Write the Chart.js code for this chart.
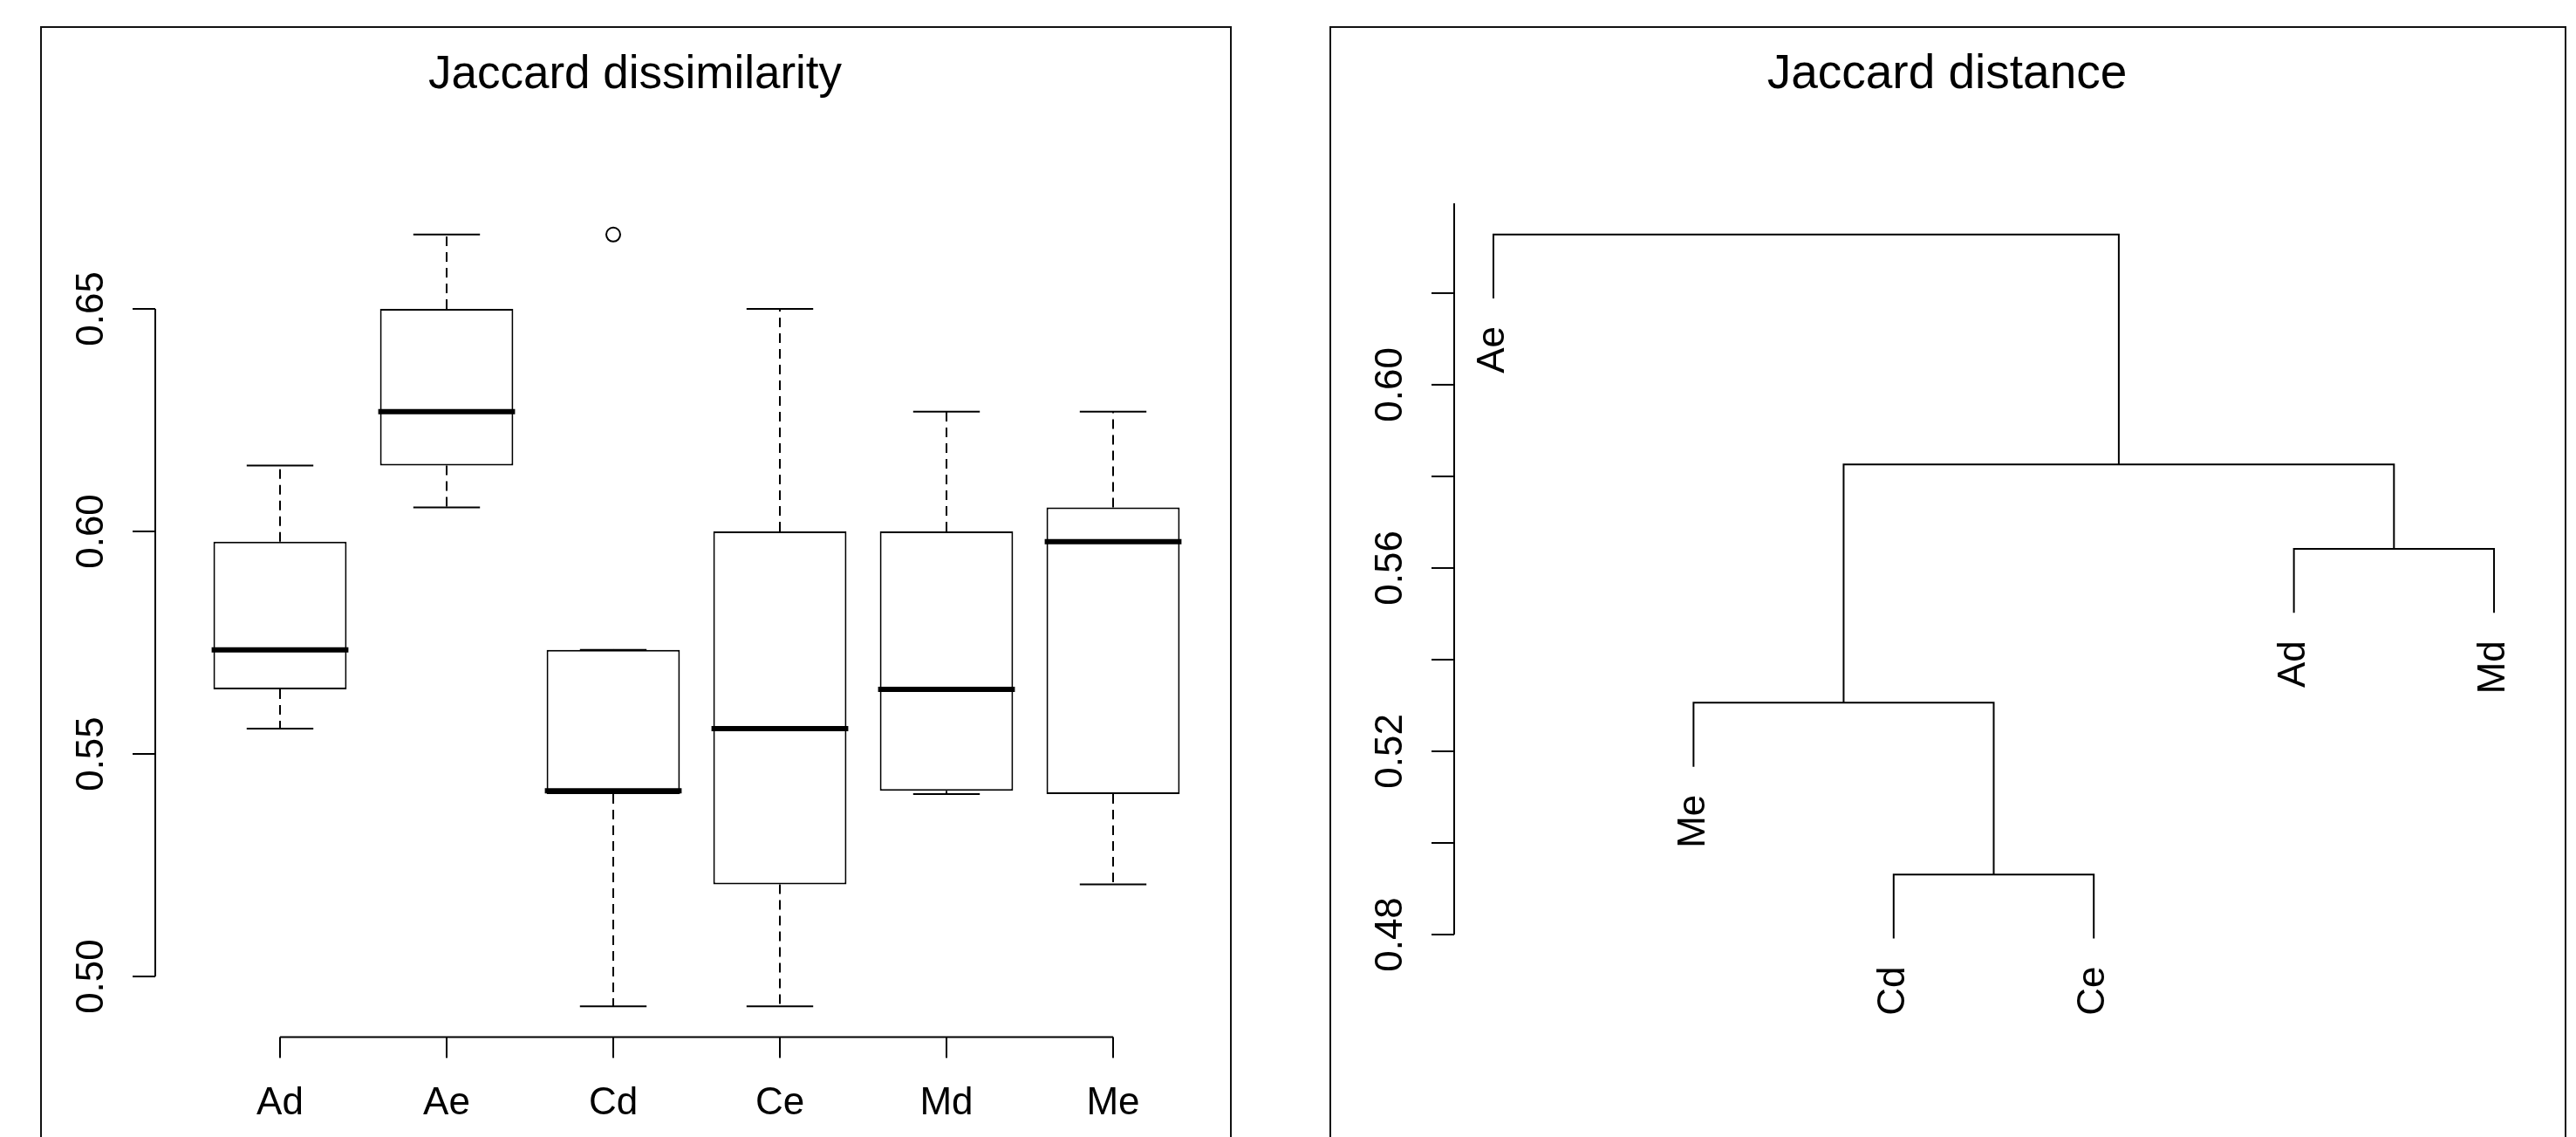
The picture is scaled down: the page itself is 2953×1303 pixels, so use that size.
<!DOCTYPE html>
<html>
<head>
<meta charset="utf-8">
<script src="https://cdn.jsdelivr.net/npm/chart.js@4.4.1/dist/chart.umd.min.js"></script>
<style>
  html,body{margin:0;padding:0;background:#fff;overflow:hidden;width:2953px;height:1303px}
  .frame{position:absolute;top:30px;height:1400px;border:2px solid #111;box-sizing:border-box}
  #frameL{left:46px;width:1366px}
  #frameR{left:1524px;width:1418px}
  canvas{position:absolute;top:0}
  #box{left:0}
  #dend{left:1476px}
</style>
</head>
<body>
<div class="frame" id="frameL"></div>
<div class="frame" id="frameR"></div>
<canvas id="box" width="1476" height="1303"></canvas>
<canvas id="dend" width="1477" height="1303"></canvas>
<script>
// left panel: boxplot of Jaccard dissimilarity
var groups = ['Ad','Ae','Cd','Ce','Md','Me']
var whiskerLow  = [0.5557,0.6054,0.4933,0.4933,0.5410,0.5207]
var quartileLow = [0.5645,0.6148,0.5410,0.5207,0.5417,0.5410]
var medians     = [0.5734,0.6269,0.5417,0.5557,0.5645,0.5977]
var quartileHigh= [0.5977,0.6500,0.5734,0.6000,0.6000,0.6054]
var whiskerHigh = [0.6148,0.6667,0.5734,0.6500,0.6269,0.6269]
var outlierGroup = [3]
var outlierValue = [0.6667]
var boxTicks = [0.50,0.55,0.60,0.65]
var boxTickLabels = ['0.50','0.55','0.60','0.65']

// right panel: dendrogram (R style merge matrix)
var leafLabels = ['Ad','Ae','Cd','Ce','Md','Me']
var mergeA = [-3,-6,-1,2,-2]
var mergeB = [-4,1,-5,3,4]
var mergeHeight = [0.4931,0.5306,0.5642,0.5826,0.6328]
var dendTicks = [0.48,0.50,0.52,0.54,0.56,0.58,0.60,0.62]
var dendTickLabels = ['0.48','','0.52','','0.56','','0.60','']

var FONT = '"Liberation Sans", Arial, sans-serif'

function seg(ctx,x1,y1,x2,y2){
  ctx.beginPath()
  ctx.moveTo(x1,y1)
  ctx.lineTo(x2,y2)
  ctx.stroke()
}

function drawLeftAxis(ctx,y,xPix,ticks,labels){
  ctx.lineWidth=2
  ctx.setLineDash([])
  ctx.font='44px '+FONT
  ctx.fillStyle='#000'
  for (var i=0;i<ticks.length;i++){
    var ty=y.getPixelForValue(ticks[i])
    seg(ctx,xPix-26,ty,xPix,ty)
    if (labels[i]){
      ctx.save()
      ctx.translate(xPix-60,ty)
      ctx.rotate(-Math.PI/2)
      ctx.textAlign='center'
      ctx.textBaseline='alphabetic'
      ctx.fillText(labels[i],0,0)
      ctx.restore()
    }
  }
}

var boxExtras = {
  id:'boxExtras',
  afterDatasetsDraw:function(chart){
    var ctx=chart.ctx, x=chart.scales.x, y=chart.scales.y, area=chart.chartArea
    ctx.save()
    ctx.strokeStyle='#000'
    for (var i=0;i<groups.length;i++){
      var c=i+1
      var xc=x.getPixelForValue(c)
      // dashed whiskers
      ctx.lineWidth=2
      ctx.setLineDash([11,7])
      seg(ctx,xc,y.getPixelForValue(quartileHigh[i]),xc,y.getPixelForValue(whiskerHigh[i]))
      seg(ctx,xc,y.getPixelForValue(quartileLow[i]),xc,y.getPixelForValue(whiskerLow[i]))
      ctx.setLineDash([])
      // staples
      seg(ctx,x.getPixelForValue(c-0.2),y.getPixelForValue(whiskerHigh[i]),x.getPixelForValue(c+0.2),y.getPixelForValue(whiskerHigh[i]))
      seg(ctx,x.getPixelForValue(c-0.2),y.getPixelForValue(whiskerLow[i]),x.getPixelForValue(c+0.2),y.getPixelForValue(whiskerLow[i]))
      // median
      ctx.lineWidth=6
      ctx.lineCap='square'
      var ym=y.getPixelForValue(medians[i])
      seg(ctx,x.getPixelForValue(c-0.4)+1,ym,x.getPixelForValue(c+0.4)-1,ym)
      ctx.lineCap='butt'
    }
    // y axis (R style: only between first and last tick)
    ctx.lineWidth=2
    seg(ctx,area.left,y.getPixelForValue(boxTicks[0]),area.left,y.getPixelForValue(boxTicks[boxTicks.length-1]))
    drawLeftAxis(ctx,y,area.left,boxTicks,boxTickLabels)
    // x axis
    var first=x.getPixelForValue(1), last=x.getPixelForValue(groups.length)
    seg(ctx,first,area.bottom,last,area.bottom)
    ctx.font='44px '+FONT
    ctx.textAlign='center'
    ctx.textBaseline='alphabetic'
    for (var j=0;j<groups.length;j++){
      var gx=x.getPixelForValue(j+1)
      seg(ctx,gx,area.bottom,gx,area.bottom+24)
      ctx.fillText(groups[j],gx,area.bottom+89)
    }
    // title
    ctx.font='53px '+FONT
    ctx.fillText('Jaccard dissimilarity',728,101)
    ctx.restore()
  }
}

var boxData=[]
for (var i=0;i<groups.length;i++){
  boxData.push({x:i+1,y:[quartileLow[i],quartileHigh[i]]})
}
var outlierData=[]
for (var k=0;k<outlierGroup.length;k++){
  outlierData.push({x:outlierGroup[k],y:outlierValue[k]})
}

new Chart(document.getElementById('box').getContext('2d'),{
  type:'bar',
  data:{
    datasets:[
      {
        type:'bar',
        data:boxData,
        backgroundColor:'#fff',
        borderColor:'#000',
        borderWidth:2,
        borderSkipped:false,
        categoryPercentage:0.8,
        barPercentage:1
      },
      {
        type:'scatter',
        data:outlierData,
        pointStyle:'circle',
        pointRadius:8,
        borderWidth:2,
        borderColor:'#000',
        backgroundColor:'rgba(0,0,0,0)'
      }
    ]
  },
  options:{
    responsive:false,
    animation:false,
    events:[],
    layout:{padding:{left:178,right:57,top:233.6,bottom:114.6}},
    plugins:{legend:{display:false},title:{display:false},tooltip:{enabled:false}},
    scales:{
      x:{
        type:'linear',min:0.2513,max:6.7487,offset:false,display:false,
        // one tick per group, so bar width follows the group spacing
        afterBuildTicks:function(scale){
          scale.ticks=groups.map(function(g,i){return {value:i+1}})
        }
      },
      y:{type:'linear',min:0.4864,max:0.6736,beginAtZero:false,bounds:'data',display:false}
    }
  },
  plugins:[boxExtras]
})

// dendrogram layout from the merge matrix
function leafOrder(m){
  var out=[]
  var parts=[mergeA[m-1],mergeB[m-1]]
  for (var i=0;i<2;i++){
    if (parts[i]<0) out.push(-parts[i]-1)
    else out=out.concat(leafOrder(parts[i]))
  }
  return out
}
var order=leafOrder(mergeHeight.length)
var leafX={}
for (var o=0;o<order.length;o++) leafX[order[o]]=o+1
var hangSize=0.1*(Math.max.apply(null,mergeHeight)-Math.min.apply(null,mergeHeight))
var nodeX=[], leafY={}
var dendSets=[]
for (var m=0;m<mergeHeight.length;m++){
  var h=mergeHeight[m]
  var kids=[mergeA[m],mergeB[m]]
  var xs=[], ys=[]
  for (var q=0;q<2;q++){
    if (kids[q]<0){
      var leaf=-kids[q]-1
      xs.push(leafX[leaf])
      ys.push(h-hangSize)
      leafY[leaf]=h-hangSize
    } else {
      xs.push(nodeX[kids[q]-1])
      ys.push(mergeHeight[kids[q]-1])
    }
  }
  nodeX.push((xs[0]+xs[1])/2)
  dendSets.push({
    data:[{x:xs[0],y:ys[0]},{x:xs[0],y:h},{x:xs[1],y:h},{x:xs[1],y:ys[1]}],
    borderColor:'#000',
    borderWidth:2,
    pointRadius:0,
    tension:0,
    fill:false
  })
}

var dendExtras = {
  id:'dendExtras',
  afterDatasetsDraw:function(chart){
    var ctx=chart.ctx, x=chart.scales.x, y=chart.scales.y, area=chart.chartArea
    ctx.save()
    ctx.strokeStyle='#000'
    ctx.lineWidth=2
    seg(ctx,area.left,y.getPixelForValue(dendTicks[0]),area.left,area.top)
    drawLeftAxis(ctx,y,area.left,dendTicks,dendTickLabels)
    // leaf labels, rotated
    ctx.font='44px '+FONT
    ctx.fillStyle='#000'
    for (var i=0;i<leafLabels.length;i++){
      var lx=x.getPixelForValue(leafX[i])
      var ly=y.getPixelForValue(leafY[i])
      ctx.save()
      ctx.translate(lx,ly+32)
      ctx.rotate(-Math.PI/2)
      ctx.textAlign='right'
      ctx.textBaseline='middle'
      ctx.fillText(leafLabels[i],0,0)
      ctx.restore()
    }
    ctx.font='55px '+FONT
    ctx.textAlign='center'
    ctx.textBaseline='alphabetic'
    ctx.fillText('Jaccard distance',756,101)
    ctx.restore()
  }
}

new Chart(document.getElementById('dend').getContext('2d'),{
  type:'line',
  data:{datasets:dendSets},
  options:{
    responsive:false,
    animation:false,
    events:[],
    layout:{padding:{left:191,right:49,top:233,bottom:195.25}},
    plugins:{legend:{display:false},title:{display:false},tooltip:{enabled:false}},
    scales:{
      x:{type:'linear',min:0.804,max:6.196,display:false},
      y:{type:'linear',min:0.4730,max:0.6396,bounds:'data',display:false}
    }
  },
  plugins:[dendExtras]
})
</script>
</body>
</html>
